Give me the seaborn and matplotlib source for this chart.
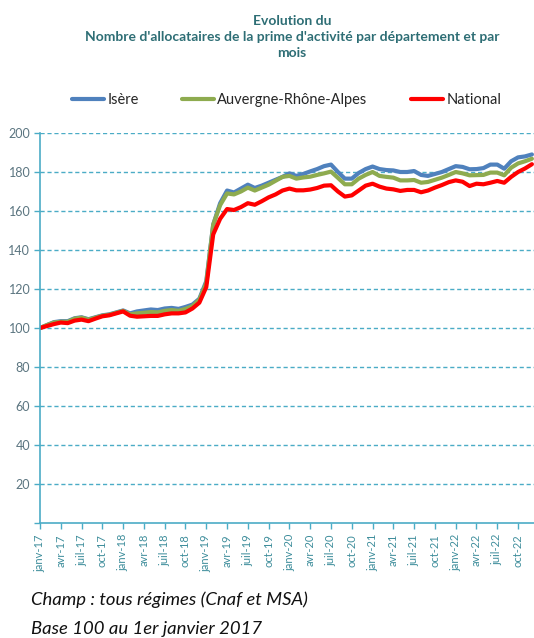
import matplotlib
matplotlib.use("Agg")
import matplotlib.pyplot as plt
import seaborn as sns
import pandas as pd
import numpy as np

# monthly index, base 100 in janv-17 (janv-17 .. dec-22)
isere = [100, 101.5, 103, 103.5, 103.5, 105, 105.5, 104.5, 105.5, 106.5, 107, 108,
         109, 107.5, 108.5, 109, 109.5, 109.2, 110, 110.3, 109.8, 110.8, 112, 115,
         124, 153, 164, 170.5, 169.5, 171.5, 173.5, 171.8, 173, 174.5, 176, 177.5,
         179.3, 178, 179, 180.3, 181.5, 183, 183.8, 180, 176.6, 176.6, 179.5, 181.5,
         182.8, 181.5, 181, 180.8, 180, 180, 180.5, 178.5, 178, 179, 180, 181.5,
         183, 182.6, 181.4, 181.5, 182, 183.8, 183.8, 181.7, 185.5, 187.5, 188, 189]
ara = [100, 101.5, 102.8, 103.2, 103.2, 104.8, 105.3, 104.3, 105.3, 106.3, 106.8, 107.8,
       108.8, 107, 107.5, 107.8, 108.2, 108, 108.8, 109.2, 108.8, 109.8, 111.2, 114.5,
       123, 153, 163, 169, 168.5, 170, 172, 170.5, 172, 173.5, 175.5, 177.5,
       178, 176.6, 177.2, 177.6, 178.5, 179.3, 180.2, 177, 173.7, 173.7, 176.6, 178.5,
       180, 178, 177.5, 177.1, 175.7, 175.7, 175.9, 174.5, 174.9, 176, 177.1, 178.5,
       180, 179.3, 178.3, 178.4, 178.5, 179.7, 179.7, 178.3, 182.2, 184.4, 185.5, 186.8]
national = [100, 101, 102, 102.8, 102.5, 103.8, 104.3, 103.5, 104.8, 106, 106.5, 107.5,
            108.5, 106.3, 105.8, 106, 106.2, 106.2, 107, 107.5, 107.5, 108, 110, 113,
            121, 148, 156, 161, 160.5, 162, 164, 163.2, 165, 167, 168.5, 170.5,
            171.5, 170.6, 170.6, 171, 171.8, 173, 173.2, 170, 167.4, 168, 170.5, 173,
            174, 172.5, 171.5, 171.1, 170.3, 170.8, 170.8, 169.6, 170.5, 172, 173.3, 174.8,
            175.7, 175, 172.8, 174, 173.7, 174.5, 175.4, 174.5, 177.5, 180, 181.8, 184]

series_names = ["Isère", "Auvergne-Rhône-Alpes", "National"]
series_colors = ["#4f81bd", "#8eab4f", "#ff0000"]

month_abbr = ["janv", "avr", "juil", "oct"]
years = [17, 18, 19, 20, 21, 22]
tick_labels = [f"{m}-{y}" for y in years for m in month_abbr]

months = np.arange(len(isere))
df = pd.DataFrame({
    "mois": np.tile(months, 3),
    "indice": isere + ara + national,
    "zone": np.repeat(series_names, len(months)),
})

sns.set_style("white")
plt.rcParams["font.family"] = ["Lato", "DejaVu Sans"]

fig = plt.figure(figsize=(5.34, 6.38), dpi=100)
ax = fig.add_axes([40 / 534, 1 - 523 / 638, 494 / 534, 390 / 638])

sns.lineplot(data=df, x="mois", y="indice", hue="zone", hue_order=series_names,
             palette=series_colors, linewidth=3, ax=ax, legend=False)

teal = "#4bacc6"
ax.set_xlim(0, len(months) - 0.7)
ax.set_ylim(0, 200)
ax.set_yticks(np.arange(0, 201, 20))
ax.set_yticklabels([""] + [str(v) for v in range(20, 201, 20)])
ax.set_xticks(np.arange(0, 72, 3))
ax.set_xticklabels(tick_labels, rotation=90, fontsize=8, color="#3f8e9c")
ax.tick_params(axis="y", labelsize=9, labelcolor="#5b7580", color=teal,
               length=4, width=1, direction="out", left=True, pad=3)
ax.tick_params(axis="x", color=teal, length=4, width=1, direction="out",
               bottom=True, pad=4)
for y in range(20, 201, 20):
    ax.axhline(y, color=teal, linestyle=(0, (3, 2)), linewidth=1, zorder=0)
for side in ["top", "right"]:
    ax.spines[side].set_visible(False)
for side in ["left", "bottom"]:
    ax.spines[side].set_color(teal)
    ax.spines[side].set_linewidth(1.2)
ax.set_xlabel("")
ax.set_ylabel("")

fig.text(0.547, 1 - 15 / 638, "Evolution du\nNombre d'allocataires de la prime d'activité par département et par\nmois",
         ha="center", va="top", fontsize=10, fontweight="bold", color="#2e6e75",
         linespacing=1.4)

handles = [plt.Line2D([], [], color=c, linewidth=3) for c in series_colors]
fig.legend(handles, series_names, loc="center", bbox_to_anchor=(0.537, 1 - 100 / 638),
           ncol=3, frameon=False, fontsize=10.5, handlelength=2.2, handletextpad=0.2,
           columnspacing=3.0)

fig.text(31 / 534, 1 - 600 / 638, "Champ : tous régimes (Cnaf et MSA)", fontsize=13.3,
         style="italic", va="center", color="#111111")
fig.text(31 / 534, 1 - 629 / 638, "Base 100 au 1er janvier 2017", fontsize=13.3,
         style="italic", va="center", color="#111111")

fig.savefig("out.png", dpi=100)
